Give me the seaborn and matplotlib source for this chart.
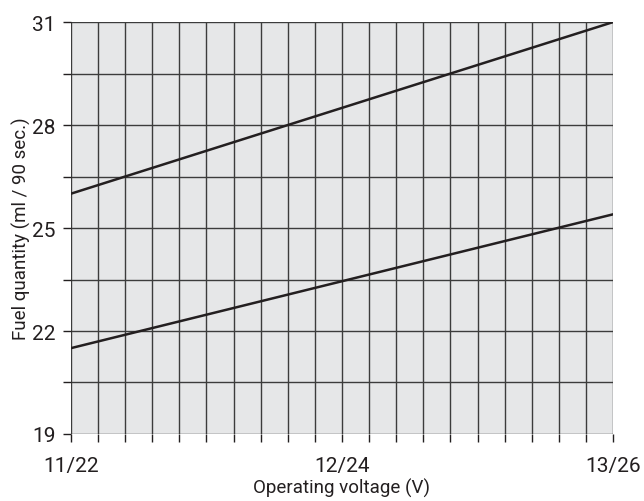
import numpy as np
import pandas as pd
import matplotlib.pyplot as plt
import seaborn as sns

# ---------------- data ----------------
voltage = [11.0, 13.0]
upper_qty = [26.0, 31.0]
lower_qty = [21.5, 25.4]
x_ticks = [11.0, 12.0, 13.0]
x_labels = ["11/22", "12/24", "13/26"]
y_ticks = [19, 22, 25, 28, 31]

df = pd.DataFrame({
    "voltage": voltage * 2,
    "qty": upper_qty + lower_qty,
    "limit": ["upper"] * 2 + ["lower"] * 2,
})

# ---------------- plot ----------------
sns.set_style("ticks")
plt.rcParams["font.family"] = ["Roboto", "DejaVu Sans"]

fig = plt.figure(figsize=(6.44, 5.02), dpi=100)
ax = fig.add_axes([0.110, 0.1335, 0.842, 0.8205])
ax.set_facecolor("#e6e7e8")

sns.lineplot(data=df, x="voltage", y="qty", units="limit", estimator=None,
             color="#231f20", linewidth=1.8, ax=ax, zorder=3)

ax.set_xlim(11, 13)
ax.set_ylim(19, 31)
ax.set_xticks(x_ticks)
ax.set_xticklabels(x_labels)
ax.set_xticks(np.arange(11, 13.001, 0.1), minor=True)
ax.set_yticks(y_ticks)
ax.set_yticks(np.arange(19, 31.01, 1.5), minor=True)

ax.grid(True, which="both", color="#3c3c3c", linewidth=1.0, zorder=1)
ax.set_axisbelow(True)

ax.tick_params(which="both", direction="out", length=6, width=1.0,
               bottom=True, left=True, top=False, right=False,
               color="#231f20", labelsize=15, labelcolor="#231f20")
ax.tick_params(axis="x", which="major", pad=10)
ax.tick_params(axis="y", which="major", pad=5)

for s in ax.spines.values():
    s.set_visible(False)

ax.set_xlabel("Operating voltage (V)", fontsize=13.5, color="#231f20", labelpad=2)
ax.set_ylabel("Fuel quantity (ml / 90 sec.)", fontsize=13.5, color="#231f20", labelpad=1)

fig.savefig("out.png", dpi=100, facecolor="white")
